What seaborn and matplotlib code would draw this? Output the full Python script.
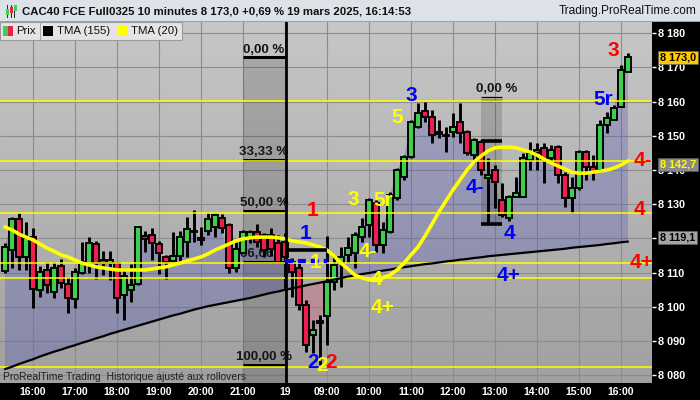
import matplotlib

matplotlib.use("Agg")
import matplotlib.pyplot as plt
import matplotlib.transforms as mtransforms
import numpy as np
import seaborn as sns
from matplotlib.colors import LinearSegmentedColormap
from matplotlib.patches import Rectangle

# 10-minute bars, bar 0 = 18 mars 15:20, bar 40 = 19 mars 08:00
opens = [
    8110.5, 8116.6, 8125.7, 8114.6, 8120.4, 8104.9, 8110.8, 8104.3, 8112.0, 8106.7,
    8102.3, 8109.9, 8112.3, 8118.4, 8113.7, 8112.8, 8112.8, 8103.5, 8104.9, 8106.7,
    8120.7, 8121.0, 8118.4, 8114.6, 8113.4, 8114.9, 8119.0, 8122.0, 8120.0, 8122.2,
    8123.4, 8126.0, 8123.9, 8111.4, 8115.7, 8120.4, 8122.0, 8121.0, 8121.0, 8118.7,
    8119.0, 8113.1, 8111.4, 8100.6, 8091.8, 8095.3, 8097.3, 8107.3, 8112.8, 8115.2,
    8115.7, 8120.4, 8123.9, 8130.4, 8118.1, 8121.9, 8131.8, 8138.0, 8143.8, 8152.6,
    8157.3, 8155.5, 8151.1, 8150.0, 8151.1, 8154.1, 8151.1, 8144.4, 8148.2, 8137.7,
    8140.0, 8131.3, 8126.0, 8132.1, 8132.1, 8142.9, 8145.9, 8146.5, 8143.5, 8146.7,
    8138.6, 8131.8, 8134.8, 8145.3, 8140.9, 8140.0, 8153.2, 8154.7, 8158.5, 8168.7,
]
highs = [
    8118.7, 8126.3, 8127.5, 8124.8, 8123.1, 8112.0, 8113.1, 8113.1, 8114.0, 8108.7,
    8111.4, 8119.0, 8120.4, 8119.3, 8116.3, 8116.3, 8113.1, 8111.4, 8112.5, 8123.6,
    8122.2, 8123.1, 8119.3, 8115.2, 8121.9, 8122.2, 8126.3, 8128.4, 8123.4, 8127.5,
    8127.5, 8127.2, 8124.5, 8119.0, 8122.5, 8122.5, 8124.2, 8121.6, 8123.0, 8121.0,
    8121.6, 8114.3, 8112.8, 8102.0, 8096.2, 8097.6, 8120.7, 8115.2, 8117.5, 8120.4,
    8121.9, 8126.0, 8131.8, 8131.3, 8124.8, 8133.6, 8140.6, 8144.4, 8154.7, 8159.6,
    8159.9, 8157.6, 8154.7, 8152.6, 8156.7, 8159.6, 8151.7, 8149.4, 8148.8, 8143.5,
    8141.5, 8136.2, 8132.7, 8138.0, 8145.0, 8148.2, 8147.9, 8147.9, 8147.3, 8147.3,
    8139.4, 8138.0, 8145.9, 8145.9, 8144.4, 8154.7, 8157.0, 8159.0, 8170.7, 8174.2,
]
lows = [
    8109.9, 8111.4, 8110.8, 8110.8, 8099.7, 8102.9, 8104.0, 8102.6, 8105.5, 8098.2,
    8099.7, 8109.6, 8109.9, 8108.2, 8109.3, 8107.9, 8098.2, 8096.2, 8101.4, 8106.4,
    8116.0, 8113.7, 8109.6, 8108.2, 8113.1, 8112.8, 8114.6, 8119.0, 8118.1, 8121.0,
    8120.4, 8121.6, 8109.9, 8110.2, 8115.7, 8118.7, 8117.5, 8114.6, 8115.0, 8112.8,
    8104.9, 8102.9, 8099.1, 8086.8, 8086.5, 8083.0, 8088.9, 8104.9, 8105.8, 8112.8,
    8111.4, 8119.0, 8120.4, 8116.0, 8115.7, 8121.6, 8131.3, 8137.1, 8143.5, 8152.3,
    8154.1, 8147.9, 8149.4, 8145.3, 8149.7, 8147.9, 8144.4, 8142.1, 8138.6, 8124.2,
    8128.9, 8126.3, 8125.0, 8132.1, 8132.1, 8140.0, 8140.0, 8136.2, 8142.4, 8136.2,
    8129.2, 8127.5, 8134.2, 8137.1, 8137.1, 8140.0, 8150.8, 8154.7, 8158.5, 8168.7,
]
closes = [
    8117.5, 8125.7, 8114.6, 8120.2, 8105.2, 8110.2, 8106.4, 8111.4, 8107.0, 8102.6,
    8110.2, 8113.1, 8118.7, 8112.8, 8112.8, 8113.7, 8102.6, 8109.0, 8106.4, 8123.4,
    8119.9, 8118.7, 8115.7, 8113.1, 8114.9, 8120.4, 8122.8, 8121.8, 8119.6, 8125.7,
    8126.9, 8123.1, 8111.4, 8116.9, 8121.9, 8121.9, 8119.0, 8116.6, 8117.0, 8113.1,
    8114.6, 8110.2, 8100.6, 8088.9, 8093.3, 8095.9, 8107.3, 8112.3, 8114.6, 8117.2,
    8121.0, 8123.4, 8131.3, 8118.1, 8122.5, 8132.7, 8140.0, 8143.8, 8154.1, 8156.7,
    8155.5, 8150.3, 8150.6, 8149.8, 8152.6, 8150.8, 8145.0, 8148.8, 8140.0, 8138.6,
    8136.5, 8126.9, 8132.1, 8133.3, 8143.5, 8145.0, 8145.0, 8142.9, 8145.9, 8138.6,
    8131.8, 8134.8, 8145.3, 8140.9, 8139.4, 8153.2, 8155.2, 8158.2, 8169.3, 8173.0,
]
tma155 = [
    8081.8, 8082.5, 8083.3, 8084.0, 8084.7, 8085.5, 8086.2, 8086.9, 8087.5, 8088.2,
    8088.8, 8089.5, 8090.1, 8090.8, 8091.4, 8092.1, 8092.7, 8093.3, 8093.9, 8094.5,
    8095.1, 8095.7, 8096.3, 8096.9, 8097.5, 8098.0, 8098.6, 8099.2, 8099.7, 8100.2,
    8100.6, 8101.0, 8101.4, 8101.8, 8102.2, 8102.6, 8103.1, 8103.6, 8104.1, 8104.5,
    8105.0, 8105.4, 8105.8, 8106.3, 8106.7, 8107.1, 8107.5, 8108.0, 8108.4, 8108.9,
    8109.2, 8109.6, 8109.9, 8110.3, 8110.6, 8110.9, 8111.3, 8111.6, 8111.9, 8112.2,
    8112.5, 8112.7, 8113.0, 8113.3, 8113.5, 8113.8, 8114.0, 8114.3, 8114.5, 8114.8,
    8115.0, 8115.2, 8115.4, 8115.6, 8115.8, 8116.0, 8116.2, 8116.4, 8116.6, 8116.8,
    8117.0, 8117.3, 8117.5, 8117.7, 8117.9, 8118.1, 8118.4, 8118.6, 8118.9, 8119.1,
]
tma20 = [
    8123.4, 8122.5, 8121.3, 8120.4, 8119.6, 8118.4, 8117.2, 8116.3, 8115.2, 8114.6,
    8113.7, 8112.8, 8112.3, 8111.7, 8111.4, 8111.1, 8110.8, 8110.8, 8110.8, 8110.8,
    8110.8, 8111.1, 8111.4, 8111.7, 8112.3, 8112.8, 8113.4, 8114.0, 8114.6, 8115.5,
    8116.6, 8117.5, 8118.4, 8119.3, 8119.9, 8120.2, 8120.4, 8120.4, 8120.4, 8120.2,
    8119.9, 8119.3, 8119.0, 8118.7, 8118.1, 8117.5, 8116.6, 8114.9, 8112.8, 8111.1,
    8109.3, 8108.5, 8107.9, 8107.9, 8108.5, 8109.3, 8110.8, 8112.8, 8115.2, 8117.5,
    8120.7, 8124.2, 8127.8, 8131.0, 8134.2, 8137.1, 8140.0, 8142.4, 8144.1, 8145.6,
    8146.5, 8146.7, 8146.7, 8146.5, 8145.9, 8145.3, 8144.4, 8143.2, 8142.1, 8141.2,
    8140.3, 8139.4, 8139.1, 8139.1, 8139.4, 8139.7, 8140.0, 8140.6, 8141.5, 8142.7,
]

hour_ticks = [4, 10, 16, 22, 28, 34, 40, 46, 52, 58, 64, 70, 76, 82, 88]
hour_labels = ["16:00", "17:00", "18:00", "19:00", "20:00", "21:00", "19",
               "09:00", "10:00", "11:00", "12:00", "13:00", "14:00", "15:00", "16:00"]
price_ticks = [8080, 8090, 8100, 8110, 8120, 8130, 8140, 8150, 8160, 8170, 8180]
hidden_price_ticks = [8120]  # sits fully under the TMA(155) value box

support_levels = [8160.3, 8142.7, 8127.6, 8112.7, 8108.4, 8082.5]
fib_levels = [8173.0, 8143.0, 8128.05, 8113.1, 8083.1]
fib_labels = ["0,00 %", "33,33 %", "50,00 %", "66,66 %", "100,00 %"]

# wave counts: (text, bar, price, colour)
wave_labels = [
    ("1", 44.0, 8128.3, "red"), ("1", 42.9, 8121.6, "blue"), ("1", 44.3, 8113.1, "yellow"),
    ("2", 44.0, 8083.6, "blue"), ("2", 45.3, 8083.0, "yellow"), ("2", 46.6, 8083.6, "red"),
    ("3", 49.7, 8131.3, "yellow"), ("5r", 54.0, 8131.0, "yellow"),
    ("4-", 51.9, 8116.1, "yellow"), ("4", 53.1, 8107.9, "yellow"), ("4+", 54.0, 8099.7, "yellow"),
    ("5", 56.0, 8155.5, "yellow"), ("3", 58.0, 8161.7, "blue"),
    ("4-", 67.1, 8134.8, "blue"), ("4", 72.0, 8121.6, "blue"), ("4+", 71.9, 8109.3, "blue"),
    ("5r", 85.4, 8160.5, "blue"), ("3", 86.9, 8175.1, "red"),
    ("4-", 91.1, 8142.7, "red"), ("4", 90.7, 8128.6, "red"), ("4+", 90.9, 8113.1, "red"),
]
label_colors = {"red": "#ff0000", "blue": "#0000ff", "yellow": "#ffff00"}

GREEN, RED = "#3ed04c", "#ee1f4f"
W, H = 700, 400


def px_rect(x0, y0, x1, y1):
    """Pixel box (origin top-left) -> figure-fraction rect."""
    return [x0 / W, 1 - y1 / H, (x1 - x0) / W, (y1 - y0) / H]


def fmt_price(v, decimals=0):
    s = f"{v:,.{decimals}f}".replace(",", " ")
    return s.replace(".", ",")


sns.set_style("white")
plt.rcParams["font.family"] = ["Liberation Sans", "DejaVu Sans"]

fig = plt.figure(figsize=(7, 4), dpi=100)
fig.patch.set_facecolor("black")
ax = fig.add_axes(px_rect(0, 22, 652, 383))

bars = np.arange(len(closes))
o, c = np.array(opens), np.array(closes)
t155 = np.array(tma155)
x_lo, x_hi = -0.71, 92.43
y_lo, y_hi = 8077.75, 8183.3

# grey vertical gradient background
bg = LinearSegmentedColormap.from_list("bg", ["#a0a0a0", "#c7c7c7"])
ax.imshow(np.linspace(0, 1, 256).reshape(-1, 1), extent=[x_lo, x_hi, y_lo, y_hi],
          origin="lower", aspect="auto", cmap=bg, zorder=0)
ax.grid(True, color="#8c8c8c", lw=0.8)

# price area against the long TMA
ax.fill_between(bars, c, t155, where=c >= t155, interpolate=True,
                color="#5050b8", alpha=0.3, lw=0, zorder=1)
ax.fill_between(bars, c, t155, where=c < t155, interpolate=True,
                color="#e05070", alpha=0.3, lw=0, zorder=1)

# fibonacci retracement block
ax.add_patch(Rectangle((34, y_lo), 6, fib_levels[0] - y_lo, color="black",
                       alpha=0.14, lw=0, zorder=1.5))
ax.hlines(fib_levels, 34, 40, color="black", lw=2.2, zorder=2.5)
for lvl, lab in zip(fib_levels, fib_labels):
    ax.text(37.0, lvl + 0.5, lab, ha="center", va="bottom", fontsize=9.5,
            fontweight="bold", color="#151515", zorder=2.6)

# second, smaller block
ax.add_patch(Rectangle((68, 8124.2), 3, 8160.8 - 8124.2, color="black",
                       alpha=0.14, lw=0, zorder=1.5))
ax.hlines([8161.4, 8160.6], 68, 71, color="black", lw=0.9, zorder=2.5)
ax.text(70.3, 8162.0, "0,00 %", ha="center", va="bottom", fontsize=9.5,
        fontweight="bold", color="#151515", zorder=2.6)

# candles
up = c >= o
body = np.where(np.abs(c - o) < 0.3, 0.3, c - o)
ax.vlines(bars, lows, highs, color="black", lw=2.1, zorder=4)
ax.bar(bars, body, bottom=o, width=0.74, color=np.where(up, GREEN, RED),
       edgecolor="black", linewidth=1.35, zorder=4.1)

for lvl in support_levels:
    ax.axhline(lvl, color="#ffff00", lw=1.1, zorder=4.5)

sns.lineplot(x=bars, y=tma155, ax=ax, color="black", linewidth=1.6, zorder=4.6)
sns.lineplot(x=bars, y=tma20, ax=ax, color="#ffff00", linewidth=2.6, zorder=4.7)

# day separator and drawn brackets
ax.axvline(40.1, color="black", lw=2.0, zorder=4.8)
ax.hlines(8116.6, 40, 46, color="black", lw=2.6, zorder=4.8)
ax.hlines(8113.5, 40, 46, color="#0000ff", lw=3, linestyles=(0, (1.9, 1.2)), zorder=4.9)
ax.hlines([8148.5, 8124.2], 68, 71, color="black", lw=2.6, zorder=4.8)

for txt, bx, by, col in wave_labels:
    ax.text(bx, by, txt, ha="center", va="center", fontsize=15, fontweight="bold",
            color=label_colors[col], clip_on=False, zorder=7)

ax.text(0.004, 0.017, "ProRealTime Trading  Historique ajusté aux rollovers",
        transform=ax.transAxes, fontsize=7.5, color="#202020", va="center", zorder=6)

ax.set_xlim(x_lo, x_hi)
ax.set_ylim(y_lo, y_hi)
ax.set_xlabel("")
ax.set_ylabel("")
ax.yaxis.tick_right()
ax.set_yticks(price_ticks)
ax.set_yticklabels(["" if p in hidden_price_ticks else fmt_price(p) for p in price_ticks])
ax.set_xticks(hour_ticks)
ax.set_xticklabels(hour_labels)
ax.tick_params(axis="y", colors="white", length=3, width=1, pad=1.4, labelsize=7.8)
ax.tick_params(axis="x", colors="white", length=1.5, width=1, pad=1.5, labelsize=7.5)
for lbl in ax.get_xticklabels() + ax.get_yticklabels():
    lbl.set_fontweight("bold")
for sp in ax.spines.values():
    sp.set_visible(False)

# last-value boxes on the price scale
blend = mtransforms.blended_transform_factory(fig.transFigure, ax.transData)
boxes = [
    (closes[-1], 0.0, "black", "#ffc800"),
    (tma20[-1], -1.0, "#ffff00", "#8a8a8a"),
    (tma155[-1], 1.2, "black", "#a4a4a4"),
]
for val, shift, tcol, fcol in boxes:
    ax.text(660 / W, val + shift, fmt_price(val, 1), transform=blend, ha="left",
            va="center", fontsize=7.8, fontweight="bold", color=tcol, clip_on=False,
            zorder=8, bbox=dict(boxstyle="square,pad=0.15", fc=fcol, ec="#606060", lw=0.5))

# title bar
fig.add_artist(Rectangle((0, 1 - 22 / H), 1, 22 / H, transform=fig.transFigure,
                         fc="#dde2e8", ec="none", zorder=10))
fig.add_artist(Rectangle((0, 1 - 22 / H), 1, 1 / H, transform=fig.transFigure,
                         fc="#9aa2ab", ec="none", zorder=10))
for k, col in enumerate([GREEN, RED, GREEN]):
    cx = 7 + 4 * k
    fig.add_artist(Rectangle(((cx - 0.5) / W, 1 - 18 / H), 1 / W, 13 / H,
                             transform=fig.transFigure, fc="#303030", ec="none", zorder=11))
    fig.add_artist(Rectangle(((cx - 1.5) / W, 1 - (15 - 2 * k) / H), 3 / W, 6 / H,
                             transform=fig.transFigure, fc=col, ec="none", zorder=12))
fig.text(22 / W, 1 - 11 / H,
         "CAC40 FCE Full0325 10 minutes 8 173,0 +0,69 % 19 mars 2025, 16:14:53",
         fontsize=8.2, fontweight="bold", va="center", color="#101010", zorder=12)
fig.text(697 / W, 1 - 11 / H, "Trading.ProRealTime.com", fontsize=8.6,
         ha="right", va="center", color="#101010", zorder=12)

# legend strip
fig.add_artist(Rectangle(px_rect(0, 22, 182, 40)[:2], 182 / W, 18 / H,
                         transform=fig.transFigure, fc="#e4e4e4", ec="#9a9a9a",
                         lw=0.8, zorder=10))
for sx in (39.5, 113.5):
    fig.add_artist(Rectangle((sx / W, 1 - 40 / H), 1 / W, 18 / H,
                             transform=fig.transFigure, fc="#a8a8a8", ec="none", zorder=11))
legend_items = [
    (3, [GREEN, RED], "Prix", 16),
    (43, ["black"], "TMA (155)", 57),
    (117, ["#ffff00"], "TMA (20)", 131),
]
for sx, cols, name, tx in legend_items:
    wpart = 10 / len(cols)
    for k, col in enumerate(cols):
        fig.add_artist(Rectangle(((sx + k * wpart) / W, 1 - 36 / H), wpart / W, 10 / H,
                                 transform=fig.transFigure, fc=col, ec="none", zorder=11))
    fig.text(tx / W, 1 - 31 / H, name, fontsize=8.2, va="center", color="#101010", zorder=12)

fig.savefig("out.png", dpi=100, facecolor=fig.get_facecolor())
